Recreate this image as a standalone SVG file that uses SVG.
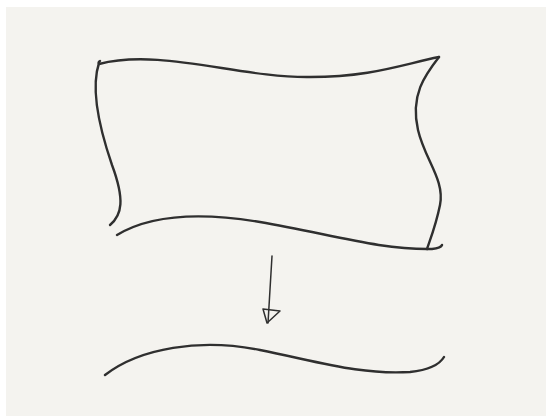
<svg xmlns="http://www.w3.org/2000/svg" width="546" height="416" viewBox="0 0 546 416">
<style>
.s{fill:none;stroke:#2f2f2f;stroke-linecap:round;stroke-linejoin:round}
.t{stroke-width:2.4}
.a{stroke-width:1.5}
</style>
<rect x="0" y="0" width="546" height="416" fill="#ffffff"/>
<rect x="6" y="7" width="540" height="409" fill="#f4f3ef"/>
<g id="box">
<path class="s t" d="M100 61 Q 98 62 99 64 C 160 48, 240 78, 310 77 C 370 77, 400 65, 439 57"/>
<path class="s t" d="M99 63 C 90 90, 100 130, 112 165 C 125 200, 122 215, 110 225"/>
<path class="s t" d="M117 235 C 150 215, 200 212, 260 222 C 330 234, 380 250, 432 249 Q 441 248 442 245"/>
<path class="s t" d="M439 57 C 425 75, 410 95, 418 130 C 425 160, 445 180, 440 205 C 436 225, 430 240, 427 249"/>
</g>
<g id="line">
<path class="s t" d="M105 375 C 140 348, 200 338, 260 350 C 320 362, 360 375, 410 372 Q 437 369 444 357"/>
</g>
<g id="connectors">
<path class="s a" d="M272 256 L 268 323"/>
<path class="s a" d="M263 309 L 280 311 L 267 323 Z"/>
</g>
</svg>
